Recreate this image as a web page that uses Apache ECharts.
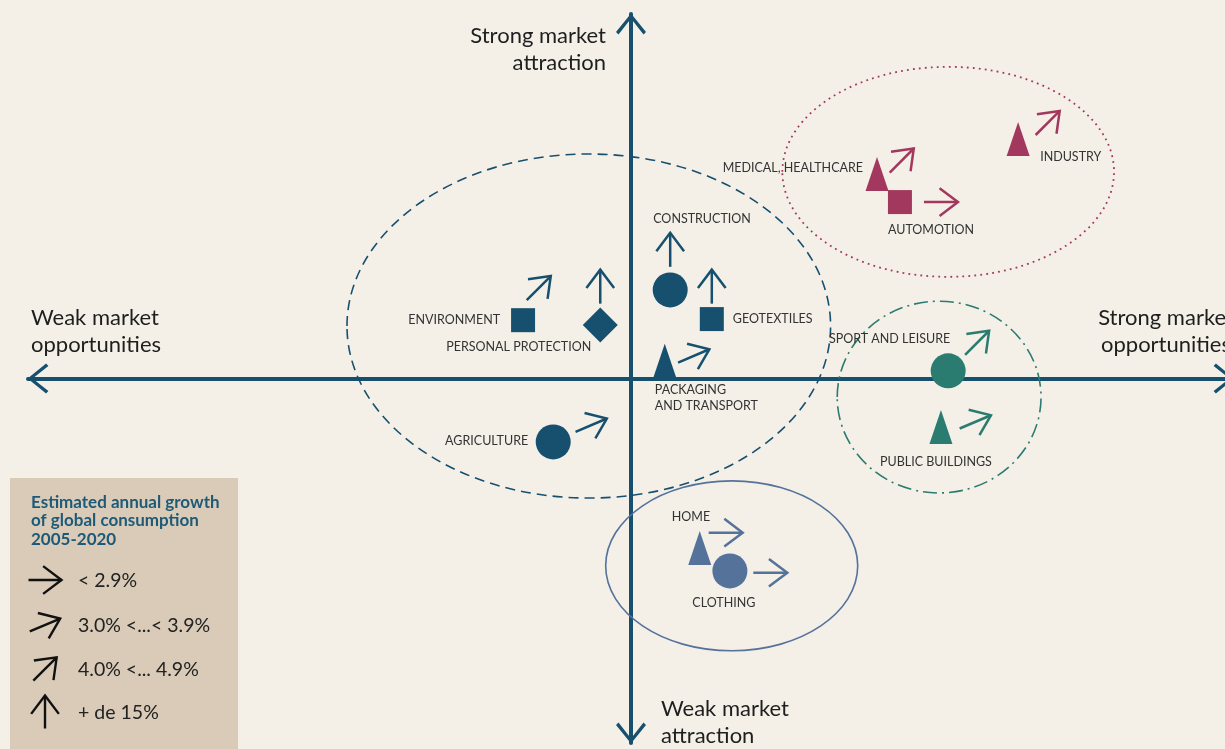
<!DOCTYPE html>
<html><head><meta charset="utf-8">
<script src="https://cdn.jsdelivr.net/npm/echarts@6/dist/echarts.min.js"></script>
<style>html,body{margin:0;padding:0;background:#f4f0e8;overflow:hidden}#c{width:1225px;height:749px}</style>
</head><body><div id="c"></div>
<script>
// ---------- DATA ----------
const segments = ['ENVIRONMENT','PERSONAL PROTECTION','CONSTRUCTION','GEOTEXTILES','PACKAGING\nAND TRANSPORT','AGRICULTURE','MEDICAL, HEALTHCARE','AUTOMOTION','INDUSTRY','SPORT AND LEISURE','PUBLIC BUILDINGS','HOME','CLOTHING'];
const opportunity = [-1.79,-0.51,0.65,1.34,0.56,-1.29,4.08,4.46,6.42,5.26,5.14,1.14,1.64];
const attraction  = [1.60,1.47,2.43,1.63,0.49,-1.74,5.61,4.84,6.57,0.21,-1.33,-4.65,-5.28];
const shapes = ['rect','diamond','circle','rect','triangle','circle','triangle','rect','triangle','circle','triangle','triangle','circle'];
const cluster = [0,0,0,0,0,0,1,1,1,2,2,3,3];
const growthClass = [2,3,3,3,1,1,2,0,2,2,1,0,0];
const arrowX = [-1.53,-0.51,0.65,1.34,1.04,-0.66,4.49,5.14,6.91,5.74,5.71,1.57,2.31];
const arrowY = [2.48,2.52,3.53,2.52,0.62,-1.28,5.98,4.84,7.01,0.98,-1.19,-4.23,-5.33];
const clusterX  = [-0.70,5.26,5.11,1.67];
const clusterY  = [1.44,5.67,-0.51,-5.14];
const clusterRX = [4.01,2.75,1.69,2.09];
const clusterRY = [4.72,2.88,2.63,2.33];
const growthLabels = ['< 2.9%','3.0% <...< 3.9%','4.0% <... 4.9%','+ de 15%'];
const legendTitle = 'Estimated annual growth\nof global consumption\n2005-2020';
const axisTitles = ['Strong market\nattraction','Weak market\nattraction','Weak market\nopportunities','Strong market\nopportunities'];

// ---------- STYLE ----------
const FONT = 'Lato, "Noto Sans", sans-serif';
const AX = '#17506e';
const clusterColors = ['#17506e','#a3385f','#2a7b70','#55729b'];
const clusterDash = [[10,6],[1.8,4.2],[14,5,2,5],null];
const clusterWidth = [1.6,1.8,1.6,1.6];
const shapeSize = {rect:[24,24], circle:[35,35], triangle:[23,34], diamond:[35,35]};
const arrowAngle = [0,23,45,90];
const labelLayout = [[-23,0,'right'],[-9,22,'right'],[-17,-71,'left'],[21,0,'left'],[-10,37,'left'],[-25,-1,'right'],[-14,-6,'right'],[-12,28,'left'],[22,18,'left'],[2,-32,'right'],[-5,35,'center'],[-28,-31,'left'],[-6,32,'center']];
const chevron = 'path://M15 0 L30 18.5 L27.5 20.8 L15 5 L2.5 20.8 L0 18.5 Z';

function arrowShapes(cx, cy, deg, len, arm, half){
  const a = deg*Math.PI/180, ux = Math.cos(a), uy = -Math.sin(a);
  const tail = [cx-ux*len/2, cy-uy*len/2], tip = [cx+ux*len/2, cy+uy*len/2];
  const h = half*Math.PI/180;
  const rot = (x,y,t)=>[x*Math.cos(t)-y*Math.sin(t), x*Math.sin(t)+y*Math.cos(t)];
  const b1 = rot(-ux,-uy,h), b2 = rot(-ux,-uy,-h);
  return [[tail,tip],[[tip[0]+b1[0]*arm, tip[1]+b1[1]*arm], tip, [tip[0]+b2[0]*arm, tip[1]+b2[1]*arm]]];
}

const chart = echarts.init(document.getElementById('c'), null, {renderer:'canvas'});

const markerData = segments.map((s,i)=>({
  name:s, value:[opportunity[i], attraction[i]], symbol:shapes[i], symbolSize:shapeSize[shapes[i]],
  itemStyle:{color:clusterColors[cluster[i]], opacity:1}
}));

// legend graphics
const legendEls = [{type:'rect', shape:{x:10,y:478,width:228,height:280}, style:{fill:'#d9cbb8'}, z:50},
  {type:'text', x:31, y:493, style:{text:legendTitle, font:'bold 17px '+FONT, fill:'#1d5a78', lineHeight:18.5, verticalAlign:'top'}, z:51}];
const legendY = [580,625,669,712];
growthLabels.forEach((t,k)=>{
  const [sh, hd] = arrowShapes(45, legendY[k], arrowAngle[k], 33, 23, 37);
  const st = {stroke:'#111', lineWidth:2.4, fill:null};
  legendEls.push({type:'polyline', shape:{points:sh}, style:st, z:51});
  legendEls.push({type:'polyline', shape:{points:hd}, style:st, z:51});
  legendEls.push({type:'text', x:78, y:legendY[k]+1, style:{text:t, font:'19.5px '+FONT, fill:'#222', verticalAlign:'middle'}, z:51});
});
const titleStyle = {font:'22px '+FONT, fill:'#1e1e1e', lineHeight:27, verticalAlign:'middle'};
legendEls.push({type:'text', x:606, y:49, style:Object.assign({text:axisTitles[0], align:'right'}, titleStyle), z:40});
legendEls.push({type:'text', x:661, y:722, style:Object.assign({text:axisTitles[1], align:'left'}, titleStyle), z:40});
legendEls.push({type:'text', x:31, y:331, style:Object.assign({text:axisTitles[2], align:'left'}, titleStyle), z:40});
legendEls.push({type:'text', x:1166, y:331, style:Object.assign({text:axisTitles[3], align:'center'}, titleStyle), z:40});

const axisCommon = {
  type:'value', min:-10, max:10, splitLine:{show:false}, axisTick:{show:false}, axisLabel:{show:false},
  axisLine:{show:true, onZero:true, symbol:[chevron, chevron], symbolSize:[30,21], symbolOffset:[10,-10],
    lineStyle:{color:AX, width:4}}
};

chart.setOption({
  backgroundColor:'#f4f0e8',
  animation:false,
  grid:{left:28, width:1206, top:14, height:729, outerBoundsMode:'none', containLabel:false},
  xAxis:Object.assign({}, axisCommon),
  yAxis:Object.assign({}, axisCommon),
  graphic:legendEls,
  series:[
    { type:'custom', name:'clusters', coordinateSystem:'cartesian2d', silent:true, z:1,
      data: clusterX.map((x,i)=>[x, clusterY[i], clusterRX[i], clusterRY[i]]),
      renderItem(params, api){
        const i = params.dataIndex;
        const c = api.coord([api.value(0), api.value(1)]);
        const s = api.size([api.value(2), api.value(3)]);
        return {type:'ellipse', shape:{cx:c[0], cy:c[1], rx:s[0], ry:s[1]},
          style:{fill:'none', stroke:clusterColors[i], lineWidth:clusterWidth[i], lineDash:clusterDash[i]}};
      }
    },
    { type:'scatter', name:'segments', data:markerData, z:5, silent:true, itemStyle:{opacity:1} },
    { type:'custom', name:'growth', coordinateSystem:'cartesian2d', silent:true, z:4,
      data: segments.map((s,i)=>[arrowX[i], arrowY[i], growthClass[i], cluster[i]]),
      renderItem(params, api){
        const p = api.coord([api.value(0), api.value(1)]);
        const [sh, hd] = arrowShapes(p[0], p[1], arrowAngle[api.value(2)], 34, 23, 37);
        const st = {stroke:clusterColors[api.value(3)], lineWidth:2.5, fill:'none'};
        return {type:'group', children:[{type:'polyline', shape:{points:sh}, style:st},{type:'polyline', shape:{points:hd}, style:st}]};
      }
    },
    { type:'custom', name:'labels', coordinateSystem:'cartesian2d', silent:true, z:6,
      data: segments.map((s,i)=>[opportunity[i], attraction[i]]),
      renderItem(params, api){
        const i = params.dataIndex;
        const p = api.coord([api.value(0), api.value(1)]);
        const L = labelLayout[i];
        return {type:'text', x:p[0]+L[0], y:p[1]+L[1],
          style:{text:segments[i], align:L[2], verticalAlign:'middle', font:'12.5px '+FONT, fill:'#333', lineHeight:16}};
      }
    }
  ]
});
</script></body></html>
